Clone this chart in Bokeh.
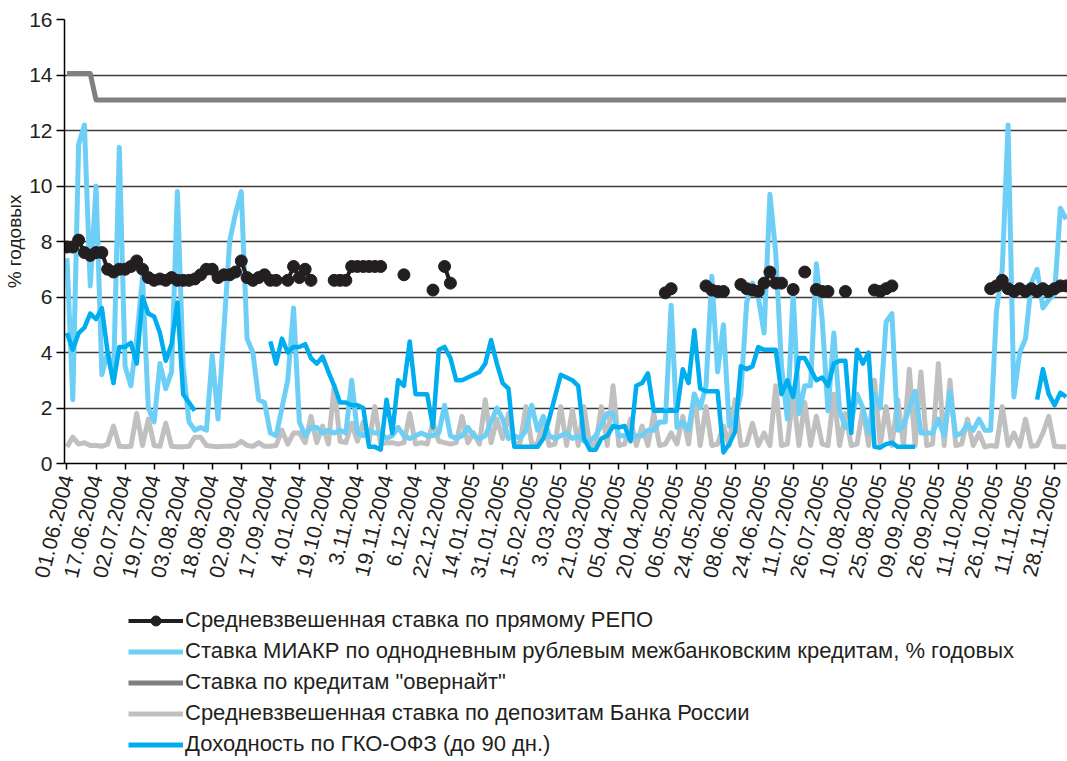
import math
import numpy as np
from bokeh.plotting import figure
from bokeh.layouts import column
from bokeh.models import Range1d, FixedTicker, Legend, LegendItem
from bokeh.embed import file_html
from bokeh.resources import INLINE

n = None

# Category labels (one label every 5 observations)
dates = ["01.06.2004", "17.06.2004", "02.07.2004", "19.07.2004", "03.08.2004", "18.08.2004",
         "02.09.2004", "17.09.2004", "4.01.2004", "19.10.2004", "3.11.2004", "19.11.2004",
         "6.12.2004", "22.12.2004", "14.01.2005", "31.01.2005", "15.02.2005", "3.03.2005",
         "21.03.2005", "05.04.2005", "20.04.2005", "06.05.2005", "24.05.2005", "08.06.2005",
         "24.06.2005", "11.07.2005", "26.07.2005", "10.08.2005", "25.08.2005", "09.09.2005",
         "26.09.2005", "11.10.2005", "26.10.2005", "11.11.2005", "28.11.2005"]
obs_per_label = 5

# Ставка МИАКР
miacr = [7.4, 2.3, 11.5, 12.2, 6.4, 10.0, 3.2, 4.0, 3.0, 11.4,
         3.5, 2.8, 4.5, 6.7, 2.0, 1.5, 3.6, 2.7, 3.3, 9.8,
         3.5, 1.5, 1.2, 1.3, 1.2, 3.9, 1.6, 4.8, 8.0, 9.0,
         9.8, 4.5, 4.0, 2.3, 2.2, 1.1, 1.0, 2.0, 3.0, 5.6,
         1.5, 1.0, 1.3, 1.3, 1.1, 1.2, 1.1, 1.2, 1.1, 3.0,
         1.1, 1.0, 1.2, 1.1, 1.1, 0.9, 1.0, 1.3, 1.0, 0.9,
         1.0, 1.1, 1.0, 1.0, 1.1, 2.1, 1.0, 0.9, 1.0, 1.3,
         1.0, 0.9, 1.0, 1.5, 2.0, 1.6, 0.9, 1.0, 0.9, 1.2,
         2.1, 1.2, 1.7, 1.0, 0.9, 1.0, 1.1, 0.9, 1.0, 0.8,
         0.8, 1.0, 1.4, 1.8, 1.8, 1.0, 1.0, 0.9, 1.0, 1.0,
         1.2, 1.2, 1.5, 1.5, 5.7, 1.3, 1.5, 1.2, 2.5, 2.0,
         2.8, 6.75, 3.3, 5.0, 1.35, 1.6, 2.5, 5.8, 6.5, 6.0,
         4.7, 9.7, 7.6, 3.5, 1.6, 6.15, 1.8, 2.8, 2.8, 7.2,
         5.2, 1.9, 4.7, 1.9, 1.3, 1.5, 2.5, 2.0, 1.1, 2.5,
         2.0, 5.1, 5.4, 1.2, 1.35, 2.0, 2.6, 1.1, 1.1, 1.1,
         1.6, 1.0, 2.6, 1.0, 1.1, 1.4, 1.2, 1.6, 1.2, 1.2,
         5.5, 7.0, 12.2, 2.4, 4.0, 4.5, 6.5, 7.0, 5.6, 5.9,
         6.1, 9.2, 8.8]

# Доходность по ГКО-ОФЗ
gko = [4.7, 4.1, 4.7, 4.9, 5.4, 5.2, 5.6, 4.0, 2.9, 4.2,
       4.2, 4.35, 3.6, 6.0, 5.4, 5.3, 4.7, 3.7, 4.3, 5.8,
       2.5, 2.2, 1.9, n, n, n, n, n, n, n,
       n, n, n, n, n, 4.4, 3.6, 4.5, 4.0, 4.2,
       4.2, 4.3, 3.8, 3.6, 3.85, 3.3, 2.8, 2.2, 2.2, 2.1,
       2.1, 2.0, 0.6, 0.6, 0.5, 2.3, 1.1, 3.0, 2.8, 4.4,
       2.5, 2.5, 2.5, 1.3, 4.1, 4.2, 3.8, 3.0, 3.0, 3.1,
       3.2, 3.3, 3.6, 4.45, 3.6, 2.9, 2.7, 0.6, 0.6, 0.6,
       0.6, 0.6, 0.9, 1.6, 2.4, 3.2, 3.1, 3.0, 2.8, 0.9,
       0.5, 0.5, 0.9, 1.0, 1.35, 1.3, 1.35, 0.8, 2.8, 2.9,
       3.25, 1.9, 1.9, 1.9, 1.9, 1.9, 3.4, 2.9, 4.8, 2.7,
       2.6, 2.6, 2.6, 0.4, 0.7, 1.15, 3.5, 3.4, 3.5, 4.2,
       4.1, 4.1, 4.1, 2.5, 3.0, 2.4, 3.8, 3.8, 3.4, 3.0,
       3.1, 2.8, 3.6, 3.7, 3.7, 1.1, 4.1, 3.6, 4.0, 0.6,
       0.57, 0.7, 0.75, 0.6, 0.6, 0.6, 0.6, n, n, n,
       n, n, n, n, n, n, n, n, n, n,
       n, n, n, n, n, n, n, 2.3, 3.4, 2.5,
       2.1, 2.55, 2.4]

# Средневзвешенная ставка по прямому РЕПО
repo = [7.8, 7.8, 8.05, 7.6, 7.5, 7.6, 7.6, 7.0, 6.9, 7.0,
        7.0, 7.1, 7.3, 7.0, 6.7, 6.6, 6.65, 6.6, 6.7, 6.6,
        6.6, 6.6, 6.65, 6.8, 7.0, 7.0, 6.7, 6.8, 6.8, 6.9,
        7.3, 6.7, 6.6, 6.7, 6.8, 6.6, 6.6, n, 6.6, 7.1,
        6.7, 7.0, 6.6, n, n, n, 6.6, 6.6, 6.6, 7.1,
        7.1, 7.1, 7.1, 7.1, 7.1, n, n, n, 6.8, n,
        n, n, n, 6.25, n, 7.1, 6.5, n, n, n,
        n, n, n, n, n, n, n, n, n, n,
        n, n, n, n, n, n, n, n, n, n,
        n, n, n, n, n, n, n, n, n, n,
        n, n, n, 6.15, 6.3, n, n, n, n, n,
        6.4, 6.25, 6.2, 6.2, n, n, 6.45, 6.3, 6.25, 6.2,
        6.5, 6.9, 6.5, 6.5, n, 6.27, n, 6.9, n, 6.27,
        6.2, 6.2, n, n, 6.2, n, n, n, n, 6.25,
        6.2, 6.3, 6.4, n, n, n, n, n, n, n,
        n, n, n, n, n, n, n, n, n, 6.3,
        6.4, 6.6, 6.3, 6.2, 6.3, 6.2, 6.3, 6.2, 6.3, 6.2,
        6.3, 6.4, 6.4]

# Средневзвешенная ставка по депозитам Банка России
deposit = [0.6, 0.95, 0.7, 0.75, 0.65, 0.65, 0.62, 0.7, 1.35, 0.62,
           0.6, 0.62, 1.8, 0.65, 1.6, 0.65, 0.62, 1.45, 0.62, 0.6,
           0.6, 0.62, 0.95, 0.95, 0.65, 0.62, 0.6, 0.62, 0.62, 0.65,
           0.8, 0.65, 0.62, 0.75, 0.62, 0.62, 0.65, 1.2, 0.7, 1.1,
           1.1, 0.75, 1.7, 0.75, 1.35, 0.7, 2.8, 0.8, 0.75, 1.45,
           0.8, 1.5, 0.8, 2.05, 0.7, 0.75, 0.75, 0.7, 0.75, 1.8,
           0.7, 0.75, 0.7, 1.5, 0.8, 0.75, 0.7, 0.75, 1.7, 0.75,
           1.1, 0.7, 2.3, 0.75, 1.6, 0.9, 1.8, 0.7, 0.75, 2.05,
           0.7, 0.7, 1.6, 0.65, 0.7, 2.05, 0.65, 1.95, 0.65, 2.05,
           0.65, 0.7, 2.05, 0.65, 2.8, 0.65, 0.7, 1.6, 0.65, 1.35,
           0.65, 1.8, 0.65, 0.7, 1.1, 0.7, 1.7, 0.7, 2.5, 0.65,
           2.05, 0.65, 0.7, 1.35, 0.65, 2.3, 0.65, 0.7, 1.45, 0.65,
           1.1, 0.65, 2.8, 0.65, 0.7, 2.5, 0.65, 2.2, 0.65, 1.7,
           0.7, 0.65, 2.5, 0.65, 1.8, 0.65, 0.7, 2.0, 0.65, 3.0,
           0.65, 2.05, 0.65, 2.3, 0.65, 3.4, 0.65, 3.3, 0.65, 0.7,
           3.6, 0.65, 3.0, 0.65, 0.7, 1.6, 0.65, 1.1, 0.6, 0.65,
           0.62, 2.05, 0.65, 1.1, 0.62, 1.6, 0.62, 0.65, 1.1, 1.7,
           0.62, 0.6, 0.6]

# Ставка по кредитам "овернайт" (change points)
overnight_obs = [0, 4, 5, 172]
overnight = [14.05, 14.05, 13.1, 13.1]

labels = ["Средневзвешенная ставка по прямому РЕПО",
          "Ставка МИАКР по однодневным рублевым межбанковским кредитам, % годовых",
          "Ставка по кредитам \"овернайт\"",
          "Средневзвешенная ставка по депозитам Банка России",
          "Доходность по ГКО-ОФЗ (до 90 дн.)"]

obs = np.arange(len(miacr))
miacr_a = np.array(miacr, dtype=float)
gko_a = np.array(gko, dtype=float)
repo_a = np.array(repo, dtype=float)
dep_a = np.array(deposit, dtype=float)

FONT = "Liberation Sans"
TXT = "#231f20"
C_REPO, C_MIACR, C_OVN, C_DEP, C_GKO = "#231f20", "#6dcff6", "#808080", "#c0c0c0", "#00aeef"

W = 1067
H1 = 600
H2 = 161


def draw_series(fig, dep_w=5, ovn_w=5, mia_w=5, gko_w=4.5, repo_w=4, dot=12):
    r_dep = fig.line(obs, dep_a, line_color=C_DEP, line_width=dep_w, line_join="round")
    r_ovn = fig.line(overnight_obs, overnight, line_color=C_OVN, line_width=ovn_w, line_join="round")
    r_mia = fig.line(obs, miacr_a, line_color=C_MIACR, line_width=mia_w, line_join="round")
    r_gko = fig.line(obs, gko_a, line_color=C_GKO, line_width=gko_w, line_join="round")
    r_rl = fig.line(obs, repo_a, line_color=C_REPO, line_width=repo_w, line_join="round")
    r_rm = fig.scatter(obs, repo_a, marker="circle", size=dot, fill_color=C_REPO, line_color=C_REPO)
    return r_dep, r_ovn, r_mia, r_gko, r_rl, r_rm


p = figure(width=W, height=H1, output_backend="svg", toolbar_location=None,
           x_range=Range1d(-0.43, 172.23), y_range=Range1d(0, 16),
           min_border_left=64, min_border_right=0, min_border_top=19,
           min_border_bottom=H1 - 19 - 444)
p.outline_line_color = None
p.background_fill_color = "white"
p.border_fill_color = "white"

# grid
p.xgrid.visible = False
p.ygrid.grid_line_color = "#3c3c3c"
p.ygrid.grid_line_width = 1.5

# y axis
p.yaxis.ticker = FixedTicker(ticks=list(range(0, 17, 2)))
p.yaxis.major_tick_out = 8
p.yaxis.major_tick_in = 0
p.yaxis.minor_tick_line_color = None
p.yaxis.axis_line_color = "black"
p.yaxis.axis_line_width = 1.5
p.yaxis.major_tick_line_color = "black"
p.yaxis.major_tick_line_width = 1.5
p.yaxis.major_label_text_font = FONT
p.yaxis.major_label_text_font_size = "21px"
p.yaxis.major_label_text_color = TXT
p.yaxis.major_label_standoff = 4
p.yaxis.axis_label = "% годовых"
p.yaxis.axis_label_text_font = FONT
p.yaxis.axis_label_text_font_size = "19px"
p.yaxis.axis_label_text_font_style = "normal"
p.yaxis.axis_label_text_color = TXT
p.yaxis.axis_label_standoff = 1

# x axis
p.xaxis.ticker = FixedTicker(ticks=[obs_per_label * k for k in range(len(dates))])
p.xaxis.major_label_overrides = {obs_per_label * k: d for k, d in enumerate(dates)}
p.xaxis.major_label_orientation = math.radians(76)
p.xaxis.minor_tick_line_color = None
p.xaxis.major_tick_out = 6
p.xaxis.major_tick_in = 0
p.xaxis.axis_line_color = "black"
p.xaxis.axis_line_width = 1.5
p.xaxis.major_tick_line_color = "black"
p.xaxis.major_tick_line_width = 1.5
p.xaxis.major_label_text_font = FONT
p.xaxis.major_label_text_font_size = "21px"
p.xaxis.major_label_text_color = TXT
p.xaxis.major_label_standoff = 6

draw_series(p)

# legend panel below the chart: same series, kept out of its (empty) view
q = figure(width=W, height=H2, output_backend="svg", toolbar_location=None,
           x_range=Range1d(0, 1), y_range=Range1d(100, 101),
           x_axis_location=None, y_axis_location=None, min_border=0)
q.outline_line_color = None
q.grid.visible = False
q.background_fill_color = "white"
q.border_fill_color = "white"

k_dep, k_ovn, k_mia, k_gko, k_rl, k_rm = draw_series(q, dep_w=5, ovn_w=5, mia_w=5, gko_w=5, repo_w=4, dot=9)

items = [
    LegendItem(label=labels[0], renderers=[k_rl, k_rm]),
    LegendItem(label=labels[1], renderers=[k_mia]),
    LegendItem(label=labels[2], renderers=[k_ovn]),
    LegendItem(label=labels[3], renderers=[k_dep]),
    LegendItem(label=labels[4], renderers=[k_gko]),
]
legend = Legend(items=items, location=(64, 4), orientation="vertical",
                glyph_width=55, glyph_height=25, label_height=25, label_standoff=2,
                spacing=5, padding=0, margin=0,
                border_line_color=None, background_fill_alpha=0,
                label_text_font=FONT, label_text_font_size="22px",
                label_text_color=TXT)
q.add_layout(legend, "center")

layout = column(p, q, spacing=0)
open("out.html", "w").write(file_html(layout, INLINE))
